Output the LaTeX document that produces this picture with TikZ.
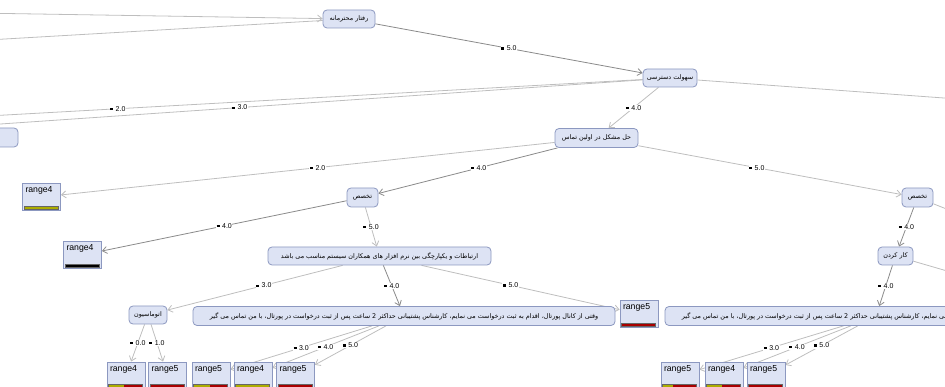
\documentclass[tikz,border=0pt]{standalone}
\usepackage{fontspec}
\setmainfont{Liberation Sans}
\newfontfamily\fa[Script=Arabic]{DejaVu Sans}
\TeXXeTstate=1
\usetikzlibrary{arrows.meta,calc,backgrounds}

\definecolor{nodefill}{HTML}{DDE3F4}
\definecolor{nodeline}{HTML}{8C98C0}
\definecolor{connlight}{HTML}{BEBEBE}
\definecolor{conndark}{HTML}{8A8A8A}
\definecolor{barolive}{HTML}{ADAD00}
\definecolor{barred}{HTML}{A80000}

% right-to-left line of text
\newcommand{\rtl}[1]{\beginR #1\endR}
% edge value with its small square
\newcommand{\val}[1]{\rule[1.2pt]{3pt}{2.2pt}\hspace{2.5pt}#1}
% class bar: node, share of first colour, first colour, second colour
\newcommand{\rangebar}[4]{%
  \coordinate (bl) at ([xshift=2pt,yshift=2pt]#1.south west);
  \coordinate (tr) at ([xshift=-3pt,yshift=5pt]#1.south east);
  \fill[#4] (bl) rectangle (tr);
  \fill[#3] (bl) rectangle ($(bl |- tr)!#2!(tr)$);
  \draw[black!60, line width=0.3pt] (bl) rectangle (tr);
}

\tikzset{
  attr/.style={draw=nodeline, fill=nodefill, rounded corners=4pt, line width=0.8pt,
    font=\fontsize{6.4}{7.5}\fa, minimum height=19pt, inner xsep=3pt, inner ysep=1pt},
  leafbox/.style={draw=nodeline, fill=nodefill, line width=0.8pt,
    font=\fontsize{8.7}{10}\selectfont, text width=32pt, align=left,
    inner xsep=3pt, inner ysep=2pt, text height=7pt, text depth=16pt},
  conn/.style={draw=connlight, line width=0.8pt, -{Straight Barb[length=4.5pt,width=7pt]}},
  conndark/.style={conn, draw=conndark},
  lbl/.style={fill=white, inner sep=0.6pt, font=\fontsize{7}{8}\selectfont}
}

\begin{document}
\begin{tikzpicture}[x=1pt, y=-1pt]
  \useasboundingbox (0,0) rectangle (945,387);

  % Define nodes for all elements
  \node[attr, minimum width=428pt] (far) at (-196,137.5) {};
  \node[attr, minimum width=52pt, minimum height=18pt] (behav) at (349,19) {\rtl{رفتار محترمانه}};
  \node[attr, minimum width=54pt, minimum height=18pt] (access) at (670,78) {\rtl{سهولت دسترسی}};
  \node[attr, minimum width=83pt] (solve) at (596.5,138) {\rtl{حل مشکل در اولین تماس}};
  \node[attr, minimum width=31pt] (skillL) at (362.5,197.5) {\rtl{تخصص}};
  \node[attr, minimum width=31pt] (skillR) at (917.5,197.5) {\rtl{تخصص}};
  \node[attr, minimum width=223pt, minimum height=18pt] (integ) at (379.5,256) {\rtl{ارتباطات و یکپارچگی بین نرم افزار های همکاران سیستم مناسب می باشد}};
  \node[attr, minimum width=35pt, minimum height=18pt] (work) at (895.5,256) {\rtl{کار کردن}};
  \node[attr, minimum width=38pt, minimum height=18pt] (autom) at (148,315) {\rtl{اتوماسیون}};
  \node[attr, minimum width=422pt] (longL) at (404,316) {\rtl{وقتی از کانال پورتال، اقدام به ثبت درخواست می نمایم، کارشناس پشتیبانی حداکثر 2 ساعت پس از ثبت درخواست در پورتال، با من تماس می گیر}};
  \node[attr, minimum width=422pt] (longR) at (876,316) {\rtl{وقتی از کانال پورتال، اقدام به ثبت درخواست می نمایم، کارشناس پشتیبانی حداکثر 2 ساعت پس از ثبت درخواست در پورتال، با من تماس می گیر}};

  \node[leafbox] (lf1) at (41.5,197) {range4};
  \node[leafbox] (lf2) at (82.5,255) {range4};
  \node[leafbox] (lf3) at (639,314) {range5};
  \node[leafbox] (b1) at (126,375.5) {range4};
  \node[leafbox] (b2) at (167.5,375.5) {range5};
  \node[leafbox] (b3) at (211,375.5) {range5};
  \node[leafbox] (b4) at (253,375.5) {range4};
  \node[leafbox] (b5) at (295.5,375.5) {range5};
  \node[leafbox] (b6) at (680,375.5) {range5};
  \node[leafbox] (b7) at (724,375.5) {range4};
  \node[leafbox] (b8) at (766,375.5) {range5};

  % ends of branches that leave the picture
  \coordinate (up) at (-400,7);
  \coordinate (behavL) at (-700,80);
  \coordinate (acc2) at (-407,138);
  \coordinate (accR) at (1300,124);
  \coordinate (skillRR) at (1150,290);
  \coordinate (workR) at (1150,330);

  % Class bars
  \rangebar{lf1}{1}{barolive}{barred}
  \rangebar{lf2}{1}{black}{black}
  \rangebar{lf3}{0}{barolive}{barred}
  \rangebar{b1}{.47}{barolive}{barred}
  \rangebar{b2}{0}{barolive}{barred}
  \rangebar{b3}{.48}{barolive}{barred}
  \rangebar{b4}{1}{barolive}{barred}
  \rangebar{b5}{0}{barolive}{barred}
  \rangebar{b6}{.32}{barolive}{barred}
  \rangebar{b7}{.46}{barolive}{barred}
  \rangebar{b8}{0}{barolive}{barred}

  % Draw arrows
  \begin{scope}[on background layer]
    \draw[conn] (up) -- (behav);
    \draw[conn] (behav) -- (behavL);
    \draw[conndark] (behav) -- (access) node[lbl, midway] {\val{5.0}};
    \draw[conn] (access) -- (acc2) node[lbl, midway] {\val{2.0}};
    \draw[conn] (access) -- (far) node[lbl, pos=.58] {\val{3.0}};
    \draw[conn] (access) -- (accR);
    \draw[conn] (access) -- (solve) node[lbl, midway] {\val{4.0}};
    \draw[conn] (solve) -- (lf1) node[lbl, pos=.48] {\val{2.0}};
    \draw[conndark] (solve) -- (skillL) node[lbl, pos=.44] {\val{4.0}};
    \draw[conn] (solve) -- (skillR) node[lbl, pos=.45] {\val{5.0}};
    \draw[conndark] (skillL) -- (lf2) node[lbl, midway] {\val{4.0}};
    \draw[conn] (skillL) -- (integ) node[lbl, midway] {\val{5.0}};
    \draw[conn] (integ) -- (autom) node[lbl, pos=.45] {\val{3.0}};
    \draw[conndark] (integ) -- (longL) node[lbl, midway] {\val{4.0}};
    \draw[conn] (integ) -- (lf3) node[lbl, pos=.45] {\val{5.0}};
    \draw[conn] (autom) -- (b1) node[lbl, midway] {\val{0.0}};
    \draw[conn] (autom) -- (b2) node[lbl, midway] {\val{1.0}};
    \draw[conn] (longL) -- (b3) node[lbl, midway] {\val{3.0}};
    \draw[conn] (longL) -- (b4) node[lbl, midway] {\val{4.0}};
    \draw[conn] (longL) -- (b5) node[lbl, midway] {\val{5.0}};
    \draw[conndark] (skillR) -- (work) node[lbl, midway] {\val{4.0}};
    \draw[conn] (skillR) -- (skillRR);
    \draw[conn] (work) -- (workR);
    \draw[conndark] (work) -- (longR) node[lbl, midway] {\val{4.0}};
    \draw[conn] (longR) -- (b6) node[lbl, midway] {\val{3.0}};
    \draw[conn] (longR) -- (b7) node[lbl, midway] {\val{4.0}};
    \draw[conn] (longR) -- (b8) node[lbl, midway] {\val{5.0}};
  \end{scope}

\end{tikzpicture}
\end{document}
